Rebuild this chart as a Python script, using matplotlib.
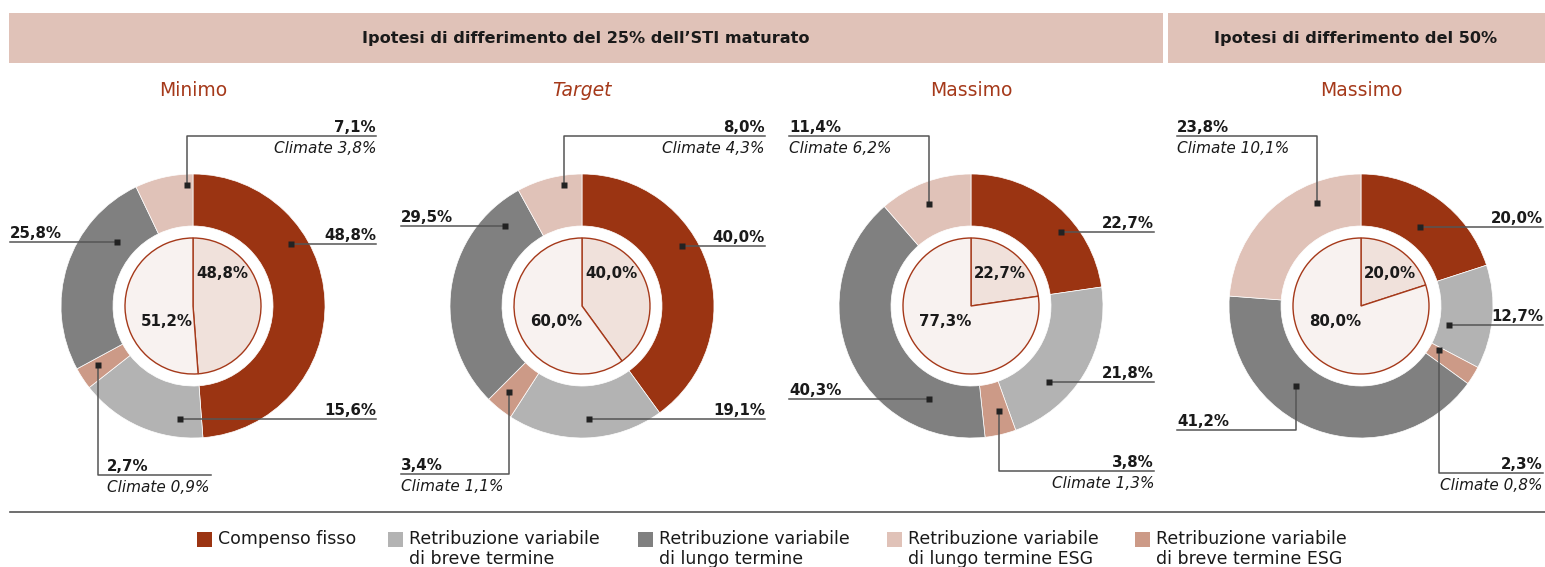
import numpy as np
import matplotlib
matplotlib.use('Agg')
import matplotlib.pyplot as plt
from matplotlib.patches import Rectangle

# ring order (clockwise from top)
categories = ['Compenso fisso',
              'Retribuzione variabile\ndi breve termine',
              'Retribuzione variabile\ndi breve termine ESG',
              'Retribuzione variabile\ndi lungo termine',
              'Retribuzione variabile\ndi lungo termine ESG']
minimo = [48.8, 15.6, 2.7, 25.8, 7.1]
target = [40.0, 19.1, 3.4, 29.5, 8.0]
massimo_25 = [22.7, 21.8, 3.8, 40.3, 11.4]
massimo_50 = [20.0, 12.7, 2.3, 41.2, 23.8]
climate_breve = [0.9, 1.1, 1.3, 0.8]
climate_lungo = [3.8, 4.3, 6.2, 10.1]
inner_fisso = [48.8, 40.0, 22.7, 20.0]
inner_var = [51.2, 60.0, 77.3, 80.0]
panel_titles = ['Minimo', 'Target', 'Massimo', 'Massimo']
header_titles = ['Ipotesi di differimento del 25% dell\u2019STI maturato',
                 'Ipotesi di differimento del 50%']
legend_order = [0, 1, 3, 4, 2]

colors = ['#9B3412', '#B3B3B3', '#CC9A87', '#808080', '#E0C2B8']
inner_colors = ['#F0E1DB', '#F8F2F0']
red_txt = '#A5391A'
line_col = '#555555'
txt_col = '#1a1a1a'

W, H = 1545, 567
fig = plt.figure(figsize=(W / 100, H / 100), dpi=100)
ax = fig.add_axes([0, 0, 1, 1])

centers = [193, 582, 971, 1361]
cy = 306
R_out, R_in, R_pie = 132, 80, 68

# label layout per wedge: (fraction inside wedge, radius, elbow y offset, end x offset, align)
layouts = [
    [(0.33, 116, None, 183, 'right'), (0.19, 114, None, 183, 'right'),
     (0.65, 112, 169, 18, 'in'), (0.74, 99, None, -183, 'left'),
     (0.89, 121, -170, 183, 'right')],
    [(0.41, 117, None, 183, 'right'), (0.47, 113, None, 183, 'right'),
     (0.63, 113, 168, -181, 'left'), (0.855, 111, None, -181, 'left'),
     (0.71, 122, -170, 183, 'right')],
    [(0.62, 116, None, 183, 'right'), (0.67, 109, None, 183, 'right'),
     (0.34, 109, 165, 183, 'right'), (0.21, 102, None, -182, 'left'),
     (0.45, 110, -170, -182, 'left')],
    [(0.51, 98, None, 182, 'right'), (0.66, 90, None, 182, 'right'),
     (0.19, 90, 167, 182, 'right'), (0.63, 103, 124, -184, 'left'),
     (0.73, 112, -170, -184, 'left')],
]


def fmt(v):
    return ('%.1f%%' % v).replace('.', ',')


series = [minimo, target, massimo_25, massimo_50]

# header bands
ax.add_patch(Rectangle((9, 13), 1154, 50, color='#E0C2B8', lw=0))
ax.add_patch(Rectangle((1168, 13), 377, 50, color='#E0C2B8', lw=0))
ax.text(586, 39, header_titles[0], ha='center', va='center', fontsize=11.6,
        fontweight='bold', color=txt_col)
ax.text(1356, 39, header_titles[1], ha='center', va='center', fontsize=11.6,
        fontweight='bold', color=txt_col)

for i, vals in enumerate(series):
    cx = centers[i]
    ax.pie(vals, radius=R_out, center=(cx, cy), colors=colors,
           startangle=-90, counterclock=True,
           wedgeprops=dict(width=R_out - R_in, edgecolor='white', linewidth=0.5))
    ax.pie([inner_fisso[i], inner_var[i]], radius=R_pie, center=(cx, cy),
           colors=inner_colors, startangle=-90, counterclock=True,
           wedgeprops=dict(edgecolor=red_txt, linewidth=1.0))
    ax.text(cx + 29, cy - 33, fmt(inner_fisso[i]), ha='center', va='center',
            fontsize=10.8, fontweight='bold', color=txt_col)
    ax.text(cx - 26, cy + 16, fmt(inner_var[i]), ha='center', va='center',
            fontsize=10.8, fontweight='bold', color=txt_col)
    ax.text(cx, 90, panel_titles[i], ha='center', va='center', fontsize=13.5,
            color=red_txt, style='italic' if panel_titles[i] == 'Target' else 'normal')

    cum = np.concatenate([[0], np.cumsum(vals)]) / 100.0 * 360
    for j, (frac, r, elb, end_dx, align) in enumerate(layouts[i]):
        a = np.radians(cum[j] + frac * (cum[j + 1] - cum[j]))
        dx, dy = cx + r * np.sin(a), cy - r * np.cos(a)
        xe = cx + end_dx
        if elb is None:
            ly = dy
            ax.plot([dx, xe], [ly, ly], color=line_col, lw=1.1)
        else:
            ly = cy + elb
            ax.plot([dx, dx, xe], [dy, ly, ly], color=line_col, lw=1.1)
        ax.plot(dx, dy, marker='s', ms=4.5, color='#222222', mec='none')
        if align == 'right':
            tx, ha = xe, 'right'
        elif align == 'left':
            tx, ha = xe, 'left'
        else:
            tx, ha = dx + 9, 'left'
        ax.text(tx, ly - 4, fmt(vals[j]), ha=ha, va='baseline', fontsize=10.8,
                fontweight='bold', color=txt_col)
        clim = None
        if j == 2:
            clim = climate_breve[i]
        elif j == 4:
            clim = climate_lungo[i]
        if clim is not None:
            ax.text(tx, ly + 17, 'Climate ' + fmt(clim), ha=ha, va='baseline',
                    fontsize=11, style='italic', color=txt_col)

# separator
ax.plot([10, 1545], [512, 512], color=line_col, lw=1.2)

# legend
leg_x = [197, 388, 638, 887, 1135]
for k, idx in enumerate(legend_order):
    ax.add_patch(Rectangle((leg_x[k], 532), 15, 15, color=colors[idx], lw=0))
    ax.text(leg_x[k] + 21, 530, categories[idx], ha='left', va='top',
            fontsize=12.5, color=txt_col, linespacing=1.15)

ax.set_xlim(0, W)
ax.set_ylim(H, 0)
ax.set_aspect('equal')
ax.axis('off')
fig.savefig('out.png', dpi=100)
